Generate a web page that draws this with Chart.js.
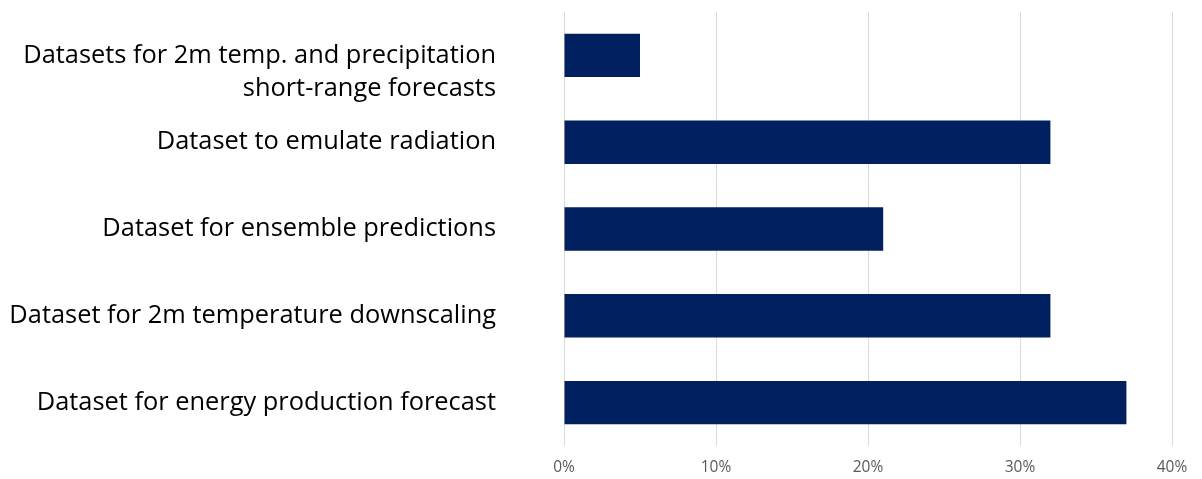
<!DOCTYPE html>
<html>
<head>
<meta charset="utf-8">
<script src="https://cdn.jsdelivr.net/npm/chart.js@4/dist/chart.umd.min.js"></script>
<style>
    html, body { margin: 0; padding: 0; background: #ffffff; overflow: hidden; }
    canvas { display: block; }
</style>
</head>
<body>
<canvas id="datasetsChart" width="1202" height="479"></canvas>
<script>
// ================= DATOS =================
const categorias = [
    ["", "Datasets for 2m temp. and precipitation", "short-range forecasts"],
    "Dataset to emulate radiation",
    "Dataset for ensemble predictions",
    "Dataset for 2m temperature downscaling",
    "Dataset for energy production forecast"
];
const porcentajes = [5, 32, 21, 32, 37];
const ticksX = [0, 10, 20, 30, 40];

const colorBarra = "#002060";

// ================= GRÁFICA =================
const ctx = document.getElementById("datasetsChart").getContext("2d");

new Chart(ctx, {
    type: 'bar',
    data: {
        labels: categorias,
        datasets: [{
            data: porcentajes,
            backgroundColor: colorBarra,
            borderWidth: 0,
            barPercentage: 0.5,
            categoryPercentage: 1
        }]
    },
    options: {
        indexAxis: 'y',
        responsive: false,
        devicePixelRatio: 1,
        animation: false,
        layout: { padding: { top: 12, right: 30, bottom: 0, left: 10 } },
        plugins: {
            legend: { display: false },
            tooltip: { enabled: false }
        },
        scales: {
            x: {
                min: ticksX[0],
                max: ticksX[ticksX.length - 1],
                afterBuildTicks: (axis) => { axis.ticks = ticksX.map(v => ({ value: v })); },
                // altura fija del eje y sin margen extra a la izquierda
                afterFit: (axis) => { axis.height = 33; axis.paddingLeft = 0; },
                grid: { color: '#d9d9d9', lineWidth: 1, drawTicks: false },
                border: { display: false },
                ticks: {
                    padding: 12,
                    color: '#595959',
                    font: { family: 'Open Sans', size: 15.5 },
                    callback: (value) => value + '%'
                }
            },
            y: {
                grid: { display: false, drawTicks: false },
                border: { display: false },
                // ancho fijo para las etiquetas; sin recortar el área vertical
                afterFit: (axis) => {
                    axis.width = 554;
                    axis.paddingTop = 0;
                    axis.paddingBottom = 0;
                },
                ticks: {
                    autoSkip: false,
                    padding: 68,
                    color: '#000000',
                    font: { family: 'Open Sans', size: 25.4, lineHeight: 1.33 }
                }
            }
        }
    }
});
</script>
</body>
</html>
